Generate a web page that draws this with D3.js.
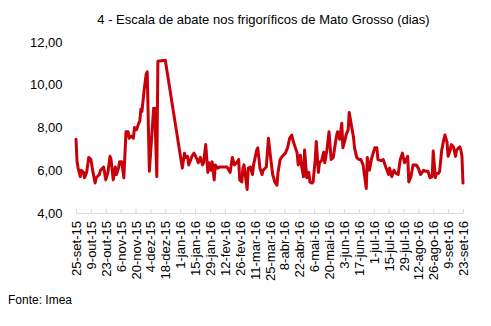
<!DOCTYPE html>
<html>
<head>
<meta charset="utf-8">
<script src="https://cdn.jsdelivr.net/npm/d3@7"></script>
<style>
  html, body { margin: 0; padding: 0; background: #fff; }
  svg { display: block; font-family: "Liberation Sans", Arial, Helvetica, sans-serif; }
</style>
</head>
<body>
<svg id="chart" width="491" height="326"></svg>
<script>
// Escala de abate (dias) nos frigoríficos de Mato Grosso, set/2015 a set/2016
const startDate = "2015-09-25";

// dias corridos desde 25-set-15 para cada observação
const dayOffsets = [
  0, 1, 2, 4, 5, 7, 8, 10, 12, 14, 16, 18, 19, 22, 23, 26, 28, 30, 32, 33,
  35, 37, 38, 40, 41, 43, 45, 47, 49, 50, 52, 54, 55, 57, 59, 60, 61, 62, 64, 66,
  67, 69, 73, 74, 76, 77, 84, 100, 102, 103, 105, 106, 108, 109, 111, 114, 115, 117, 119, 120,
  122, 124, 125, 127, 128, 130, 131, 133, 135, 142, 145, 147, 149, 151, 153, 154, 156, 157, 158, 161,
  162, 164, 166, 167, 170, 171, 173, 175, 176, 179, 181, 183, 185, 187, 189, 190, 192, 194, 197, 199,
  201, 203, 204, 208, 209, 211, 212, 214, 215, 217, 219, 220, 222, 223, 225, 226, 228, 229, 231, 233,
  234, 236, 238, 240, 242, 243, 245, 246, 248, 250, 251, 253, 254, 256, 257, 259, 261, 262, 264, 266,
  268, 270, 273, 274, 276, 278, 281, 283, 284, 287, 289, 291, 294, 295, 297, 299, 301, 303, 305, 307,
  309, 312, 313, 315, 317, 320, 322, 324, 327, 329, 331, 333, 335, 336, 338, 339, 341, 342, 344, 346,
  347, 349, 350, 352, 353, 355, 357, 358, 360, 361, 362, 363, 364
];

// escala de abate, em dias
const escalaDias = [
  7.45, 6.4, 6.1, 5.7, 6.0, 5.9, 5.65, 5.9, 6.6, 6.5, 5.9, 5.4, 5.65, 5.8, 6.0, 6.15, 5.55, 5.9, 6.65, 6.5,
  5.55, 6.15, 5.8, 6.1, 6.4, 6.4, 5.65, 7.8, 7.8, 7.5, 7.6, 7.5, 8.0, 7.9, 8.2, 8.3, 8.85, 8.75, 9.7, 10.5,
  10.6, 5.95, 8.9, 8.9, 5.7, 11.1, 11.15, 6.1, 6.8, 6.6, 6.65, 6.25, 6.5, 6.65, 6.8, 6.5, 6.35, 6.6, 6.25, 6.35,
  7.2, 5.9, 6.35, 6.0, 6.4, 5.55, 6.25, 6.1, 6.15, 6.15, 5.9, 6.6, 6.25, 6.35, 6.5, 5.55, 5.45, 6.1, 6.25, 5.1,
  6.1, 6.15, 5.8, 6.25, 6.95, 7.05, 6.1, 5.8, 6.0, 6.15, 7.5, 6.6, 5.8, 5.45, 5.3, 5.9, 6.5, 6.65, 6.8, 7.05,
  7.5, 7.65, 7.4, 6.8, 6.25, 6.7, 6.25, 5.7, 6.95, 5.65, 5.9, 5.45, 5.4, 5.45, 6.5, 7.35, 5.9, 6.35, 6.45, 6.85,
  6.35, 6.95, 7.8, 6.5, 6.6, 6.95, 7.6, 7.8, 7.45, 8.2, 7.05, 7.4, 7.65, 7.9, 8.7, 8.1, 7.55, 7.05, 6.6, 6.5,
  6.5, 6.25, 5.15, 6.6, 6.0, 6.55, 7.05, 7.05, 6.5, 6.45, 6.5, 6.2, 5.8, 6.1, 5.7, 6.0, 5.85, 5.8, 6.5, 6.8,
  6.35, 6.65, 5.45, 5.7, 6.25, 6.25, 6.1, 5.8, 6.0, 5.95, 5.95, 5.65, 5.7, 6.9, 5.65, 5.85, 5.85, 5.95, 6.95, 7.45,
  7.65, 7.3, 6.65, 6.95, 7.2, 7.1, 6.65, 6.95, 7.05, 7.1, 6.95, 6.65, 5.4
];

// rótulos do eixo X (quinzenais)
const tickLabels = [
  "25-set-15", "9-out-15", "23-out-15", "6-nov-15", "20-nov-15", "4-dez-15", "18-dez-15",
  "1-jan-16", "15-jan-16", "29-jan-16", "12-fev-16", "26-fev-16", "11-mar-16", "25-mar-16",
  "8-abr-16", "22-abr-16", "6-mai-16", "20-mai-16", "3-jun-16", "17-jun-16", "1-jul-16",
  "15-jul-16", "29-jul-16", "12-ago-16", "26-ago-16", "9-set-16", "23-set-16"
];

const yTicks = [4, 6, 8, 10, 12];

const title = "4 - Escala de abate nos frigoríficos de Mato Grosso (dias)";
const source = "Fonte: Imea";

const parseDate = d3.timeParse("%Y-%m-%d");
const t0 = parseDate(startDate);
const data = dayOffsets.map((d, i) => ({ date: d3.timeDay.offset(t0, d), value: escalaDias[i] }));
const tickDates = tickLabels.map((_, i) => d3.timeDay.offset(t0, i * 14));

const ptBR = d3.formatLocale({ decimal: ",", thousands: ".", grouping: [3], currency: ["R$", ""] });
const fmt = ptBR.format(".2f");

const svg = d3.select("#chart");
const plot = { left: 76, right: 463, top: 42, bottom: 213 };

const x = d3.scaleTime()
  .domain([t0, tickDates[tickDates.length - 1]])
  .range([plot.left, plot.right]);

const y = d3.scaleLinear()
  .domain([4, 12])
  .range([plot.bottom, plot.top]);

// título
svg.append("text")
  .attr("x", 263.5)
  .attr("y", 24)
  .attr("text-anchor", "middle")
  .attr("font-size", 13)
  .attr("fill", "#000")
  .text(title);

// eixo Y (apenas rótulos)
const yAxis = svg.append("g")
  .attr("transform", `translate(${plot.left},0)`)
  .call(d3.axisLeft(y).tickValues(yTicks).tickFormat(fmt).tickSize(0).tickPadding(13.5));
yAxis.select(".domain").remove();
yAxis.selectAll("text")
  .attr("font-size", 13)
  .attr("font-family", "'Liberation Sans', Arial, sans-serif")
  .attr("fill", "#000");

// eixo X
const xAxis = svg.append("g")
  .attr("transform", `translate(0,${plot.bottom})`)
  .call(d3.axisBottom(x)
    .tickValues(tickDates)
    .tickFormat((d, i) => tickLabels[i])
    .tickSizeInner(-4)
    .tickSizeOuter(0)
    .tickPadding(8));
xAxis.select(".domain").attr("stroke", "#d9d9d9").attr("stroke-width", 1);
xAxis.selectAll(".tick line").attr("stroke", "#d9d9d9").attr("stroke-width", 1);
xAxis.selectAll("text")
  .attr("font-size", 13)
  .attr("font-family", "'Liberation Sans', Arial, sans-serif")
  .attr("fill", "#000")
  .attr("text-anchor", "end")
  .attr("transform", "rotate(-90)")
  .attr("x", -8)
  .attr("y", 0)
  .attr("dy", "0.35em");

// série
const line = d3.line()
  .x(d => x(d.date))
  .y(d => y(d.value));

svg.append("path")
  .datum(data)
  .attr("fill", "none")
  .attr("stroke", "#c8000a")
  .attr("stroke-width", 3)
  .attr("stroke-linejoin", "round")
  .attr("stroke-linecap", "round")
  .attr("d", line);

// fonte
svg.append("text")
  .attr("x", 8)
  .attr("y", 304)
  .attr("font-size", 12)
  .attr("fill", "#000")
  .text(source);
</script>
</body>
</html>
